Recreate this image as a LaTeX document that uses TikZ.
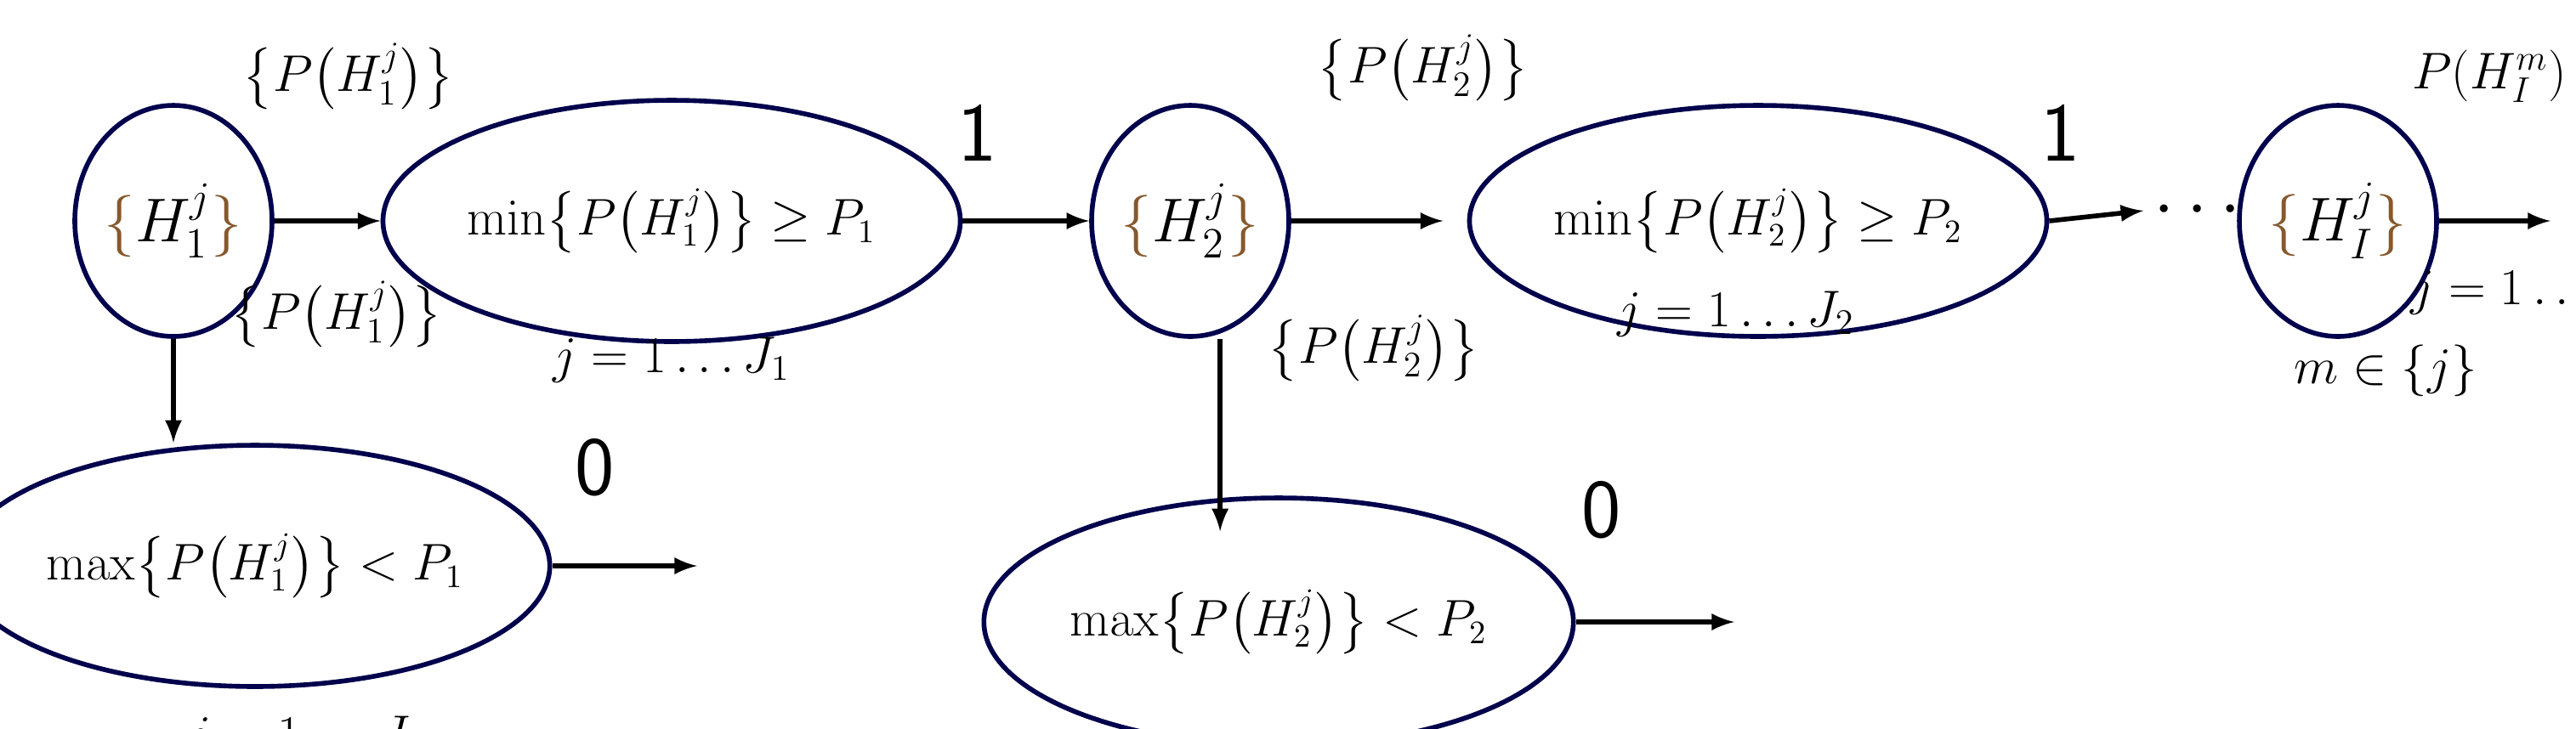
\documentclass[tikz,border=0pt]{standalone}
\usepackage{amsmath}
\usetikzlibrary{shapes.geometric}
\begin{document}
\begin{tikzpicture}[x=0.02cm,y=-0.02cm,
  circ/.style={draw=black!70!blue,line width=1.6pt,ellipse,minimum width=2.32cm,minimum height=2.72cm,inner sep=0pt,font=\fontsize{22}{26}\selectfont},
  ell/.style={draw=black!70!blue,line width=1.6pt,ellipse,minimum height=2.84cm,inner sep=0pt,font=\fontsize{16}{20}\selectfont},
  arr/.style={-latex,line width=1.6pt},
  lab/.style={font=\fontsize{17}{20}\selectfont},
  num/.style={font=\sffamily\fontsize{28}{32}\selectfont}]
\useasboundingbox (0,0) rectangle (1515,428.5);
\def\br#1{\textcolor{brown!70!black}{#1}}
\node[circ] (h1) at (102,130) {$\br{\{}H_1^j\br{\}}$};
\node[ell,minimum width=5.6cm] (m1) at (395,130) {$\min\bigl\{P\bigl(H_1^j\bigr)\bigr\}\geq P_1$};
\node[num] (o1) at (575,78) {1};
\node[circ] (h2) at (700,130) {$\br{\{}H_2^j\br{\}}$};
\node[ell,minimum width=6.08cm,minimum height=2.72cm] (m2) at (1034,130) {$\min\bigl\{P\bigl(H_2^j\bigr)\bigr\}\geq P_2$};
\node[num] (o2) at (1212,78) {1};
\node[font=\fontsize{24}{28}\selectfont\bfseries] (dots) at (1296,124) {$\cdots$};
\node[circ] (hI) at (1375,130) {$\br{\{}H_I^j\br{\}}$};
\coordinate (eI) at (1500,130);
\node[lab] at (1464,45) {$P(H_I^m)$};
\node[lab] at (1486,172) {$j=1\ldots J_{\mathrm I}$};
\node[lab] at (1403,218) {$m\in\{j\}$};
\node[lab] at (1021,185) {$j=1\ldots J_2$};
\node[lab] at (395,212) {$j=1\ldots J_1$};
\node[lab] at (205,45) {$\bigl\{P\bigl(H_1^j\bigr)\bigr\}$};
\node[lab] at (837,40) {$\bigl\{P\bigl(H_2^j\bigr)\bigr\}$};
\node[lab] at (198,185) {$\bigl\{P\bigl(H_1^j\bigr)\bigr\}$};
\node[lab] at (808,205) {$\bigl\{P\bigl(H_2^j\bigr)\bigr\}$};
\node[ell,minimum width=5.6cm] (x1) at (150,333) {$\max\bigl\{P\bigl(H_1^j\bigr)\bigr\}<P_1$};
\node[ell,minimum width=6.08cm,minimum height=2.92cm] (x2) at (752,366) {$\max\bigl\{P\bigl(H_2^j\bigr)\bigr\}<P_2$};
\coordinate (e1) at (410,333);
\coordinate (e2) at (1020,366);
\node[num] at (350,275) {0};
\node[num] at (942,300) {0};
\node[lab] at (180,435) {$j=1\ldots J_1$};
\node[lab] at (750,470) {$j=1\ldots J_2$};
\draw[arr] (h1) -- (m1);
\draw[arr] (m1) -- (h2);
\draw[arr] (h2.east) -- ([xshift=-8]m2.west);
\draw[arr] (m2.east) -- (dots.west);
\draw[arr] (hI) -- (eI);
\draw[arr] (h1) -- (h1|-x1.north);
\draw[arr] ([xshift=10]h2.south) -- ([xshift=10,yshift=-12]h2.south|-x2.north);
\draw[arr] (x1) -- (e1);
\draw[arr] (x2) -- (e2);
\end{tikzpicture}
\end{document}
